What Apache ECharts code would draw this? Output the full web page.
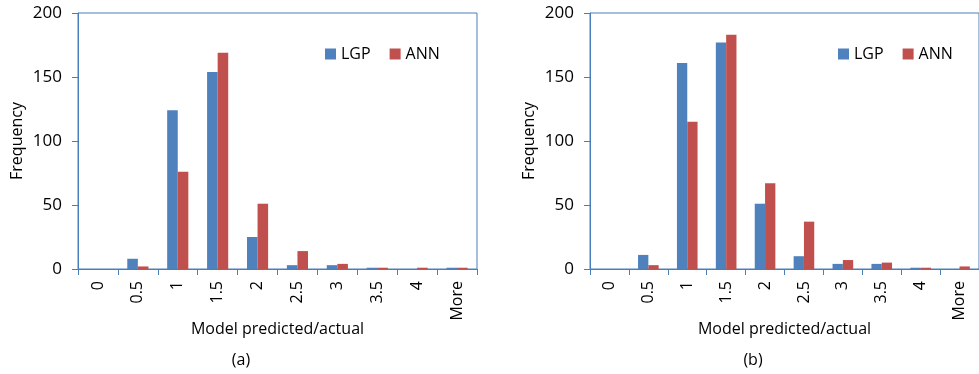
<!DOCTYPE html>
<html>
<head>
<meta charset="utf-8">
<script src="https://cdn.jsdelivr.net/npm/echarts@6/dist/echarts.min.js"></script>
<style>html,body{margin:0;padding:0;background:#fff;}#c{width:979px;height:374px;}</style>
</head>
<body>
<div id="c"></div>
<script>
const categories = ['0', '0.5', '1', '1.5', '2', '2.5', '3', '3.5', '4', 'More'];
const lgpA = [0, 8, 124, 154, 25, 3, 3, 1, 0, 1];
const annA = [0, 2, 76, 169, 51, 14, 4, 1, 1, 1];
const lgpB = [0, 11, 161, 177, 51, 10, 4, 4, 1, 0];
const annB = [0, 3, 115, 183, 67, 37, 7, 5, 1, 2];
const yTicks = { min: 0, max: 200, interval: 50 };
const seriesNames = ['LGP', 'ANN'];
const panelLabels = ['(a)', '(b)'];

const BLUE = '#4F81BD', RED = '#C0504D', AX = '#4A7EBB';
const FONT = 'Open Sans';
const chart = echarts.init(document.getElementById('c'), null, { renderer: 'canvas' });

function xAx(i) {
  return {
    type: 'category', gridIndex: i, data: categories,
    axisLine: { lineStyle: { color: AX, width: 1 } },
    axisTick: { show: true, alignWithLabel: false, length: 6, lineStyle: { color: AX } },
    axisLabel: { rotate: 90, color: '#000', fontSize: 16, fontFamily: FONT, margin: 12 },
    name: 'Model predicted/actual', nameLocation: 'middle', nameGap: 52, nameMoveOverlap: false,
    nameTextStyle: { color: '#000', fontSize: 16, fontFamily: FONT }
  };
}
function yAx(i) {
  return {
    type: 'value', gridIndex: i, min: yTicks.min, max: yTicks.max, interval: yTicks.interval,
    axisLine: { show: true, lineStyle: { color: AX, width: 1 } },
    axisTick: { show: true, length: 6, lineStyle: { color: AX } },
    splitLine: { show: false },
    axisLabel: { color: '#000', fontSize: 17, fontFamily: FONT, margin: 16 },
    name: 'Frequency', nameLocation: 'middle', nameGap: 53, nameMoveOverlap: false,
    nameTextStyle: { color: '#000', fontSize: 16, fontFamily: FONT }
  };
}
function bar(name, data, color, i) {
  return {
    type: 'bar', name: name, data: data, xAxisIndex: i, yAxisIndex: i,
    barGap: '0%', barCategoryGap: '47%',
    itemStyle: { color: color, borderColor: color, borderWidth: 0 },
    emphasis: { disabled: true }
  };
}

chart.setOption({
  animation: false,
  textStyle: { fontFamily: FONT },
  grid: [
    { left: 78, top: 13, width: 399, height: 256, show: true, borderColor: AX, borderWidth: 1, backgroundColor: 'transparent' },
    { left: 590, top: 13, width: 400, height: 256, show: true, borderColor: AX, borderWidth: 1, backgroundColor: 'transparent' }
  ],
  xAxis: [xAx(0), xAx(1)],
  yAxis: [yAx(0), yAx(1)],
  legend: [
    { left: 325, top: 46, icon: 'rect', itemWidth: 11, itemHeight: 11, itemGap: 19, padding: 0, itemTextGap: 4,
      data: seriesNames, textStyle: { color: '#000', fontSize: 16, fontFamily: FONT } },
    { left: 838, top: 46, icon: 'rect', itemWidth: 11, itemHeight: 11, itemGap: 19, padding: 0, itemTextGap: 4,
      data: seriesNames, textStyle: { color: '#000', fontSize: 16, fontFamily: FONT } }
  ],
  series: [
    bar(seriesNames[0], lgpA, BLUE, 0), bar(seriesNames[1], annA, RED, 0),
    bar(seriesNames[0], lgpB, BLUE, 1), bar(seriesNames[1], annB, RED, 1)
  ],
  graphic: [
    { type: 'text', x: 241, y: 360, style: { text: panelLabels[0], fill: '#000', font: '16px "Open Sans"', textAlign: 'center', textVerticalAlign: 'middle' } },
    { type: 'text', x: 753, y: 360, style: { text: panelLabels[1], fill: '#000', font: '16px "Open Sans"', textAlign: 'center', textVerticalAlign: 'middle' } }
  ]
});
</script>
</body>
</html>
